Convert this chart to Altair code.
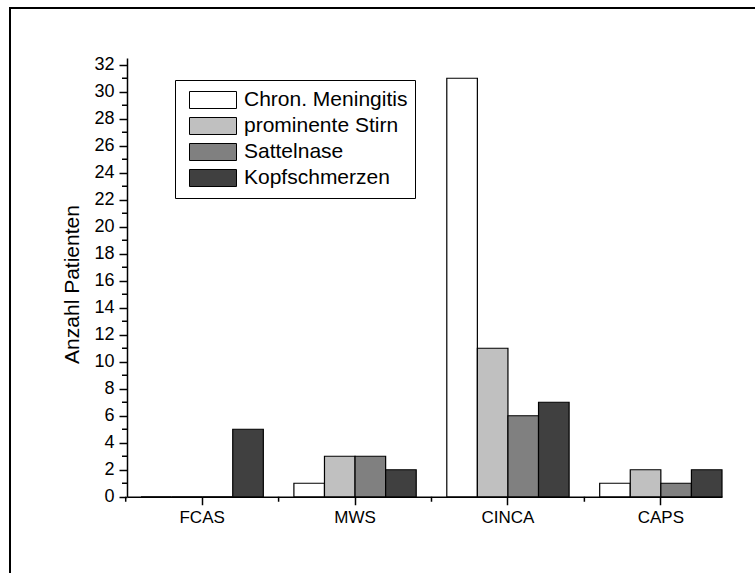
import altair as alt
import pandas as pd

categories = ["FCAS", "MWS", "CINCA", "CAPS"]
series_names = ["Chron. Meningitis", "prominente Stirn", "Sattelnase", "Kopfschmerzen"]
chron = [0, 1, 31, 1]
stirn = [0, 3, 11, 2]
sattel = [0, 3, 6, 1]
kopf = [5, 2, 7, 2]
colors = ["#FFFFFF", "#C0C0C0", "#808080", "#404040"]
y_major = list(range(0, 33, 2))
y_minor = list(range(1, 33, 2))

rows = []
for s, vals in zip(series_names, [chron, stirn, sattel, kopf]):
    for c, v in zip(categories, vals):
        rows.append({"cat": c, "series": s, "value": v})
df = pd.DataFrame(rows)

FONT = "Liberation Sans"
W, H = 595, 438.75

x_scale = alt.Scale(domain=categories, paddingInner=0.2, paddingOuter=0.0458, align=1)
x_axis = alt.Axis(title=None, labelAngle=0, tickSize=8, labelPadding=5,
                  labelFontSize=17, labelFont=FONT, labelColor="black")
y_scale = alt.Scale(domain=[0, 32.5], nice=False, zero=True)
y_axis = alt.Axis(values=y_major, title="Anzahl Patienten", grid=False, tickSize=8,
                  labelPadding=5, labelFontSize=18, labelFont=FONT, labelColor="black",
                  titleFont=FONT, titleFontSize=21, titleFontWeight="normal",
                  titleColor="black", titleX=-48.7, titleY=226, titleAngle=270,
                  titleAlign="center", titleBaseline="alphabetic")

frame = alt.Chart(pd.DataFrame({"d": [0]})).mark_rect(
    fill="white", fillOpacity=0, stroke="black", strokeWidth=2
).encode(x=alt.value(-117), x2=alt.value(720), y=alt.value(-50), y2=alt.value(600))

bars = alt.Chart(df).mark_bar(stroke="black", strokeWidth=1.2, opacity=1).encode(
    x=alt.X("cat:N", scale=x_scale, sort=categories, axis=x_axis),
    xOffset=alt.XOffset("series:N", sort=series_names,
                        scale=alt.Scale(domain=series_names, paddingInner=0, paddingOuter=0)),
    y=alt.Y("value:Q", scale=y_scale, axis=y_axis),
    color=alt.Color(
        "series:N", sort=series_names,
        scale=alt.Scale(domain=series_names, range=colors),
        legend=alt.Legend(
            title=None, orient="none", legendX=48, legendY=22, padding=7,
            strokeColor="black", fillColor="white",
            symbolType="M-1,-0.3617L1,-0.3617L1,0.3617L-1,0.3617Z",
            symbolSize=2209, symbolStrokeColor="black", symbolStrokeWidth=1,
            symbolOpacity=1, symbolOffset=7, clipHeight=26, rowPadding=0,
            labelFont=FONT, labelFontSize=21, labelColor="black", labelOffset=7,
            labelLimit=400,
        ),
    ),
)

yminor = alt.Chart(pd.DataFrame({"value": y_minor})).mark_rule(
    color="black", strokeWidth=1.5
).encode(
    y=alt.Y("value:Q", scale=y_scale, axis=y_axis),
    x=alt.value(-5), x2=alt.value(0),
)

xminor = alt.Chart(pd.DataFrame({"cat": categories})).mark_rule(
    color="black", strokeWidth=1.5, xOffset=-15.3
).encode(
    x=alt.X("cat:N", scale=x_scale, sort=categories, axis=x_axis, bandPosition=0),
    y=alt.value(H), y2=alt.value(H + 5),
)

chart = alt.layer(frame, bars, yminor, xminor).properties(
    width=W, height=H,
    autosize=alt.AutoSizeParams(type="none"),
    padding={"left": 127, "top": 58, "right": 33, "bottom": 76.25},
    background="white",
).configure_view(stroke="transparent").configure_axis(
    domainColor="black", domainWidth=1.5, tickColor="black", tickWidth=1.5,
)

chart.save("out.html", embed_options={"renderer": "svg", "actions": False})
